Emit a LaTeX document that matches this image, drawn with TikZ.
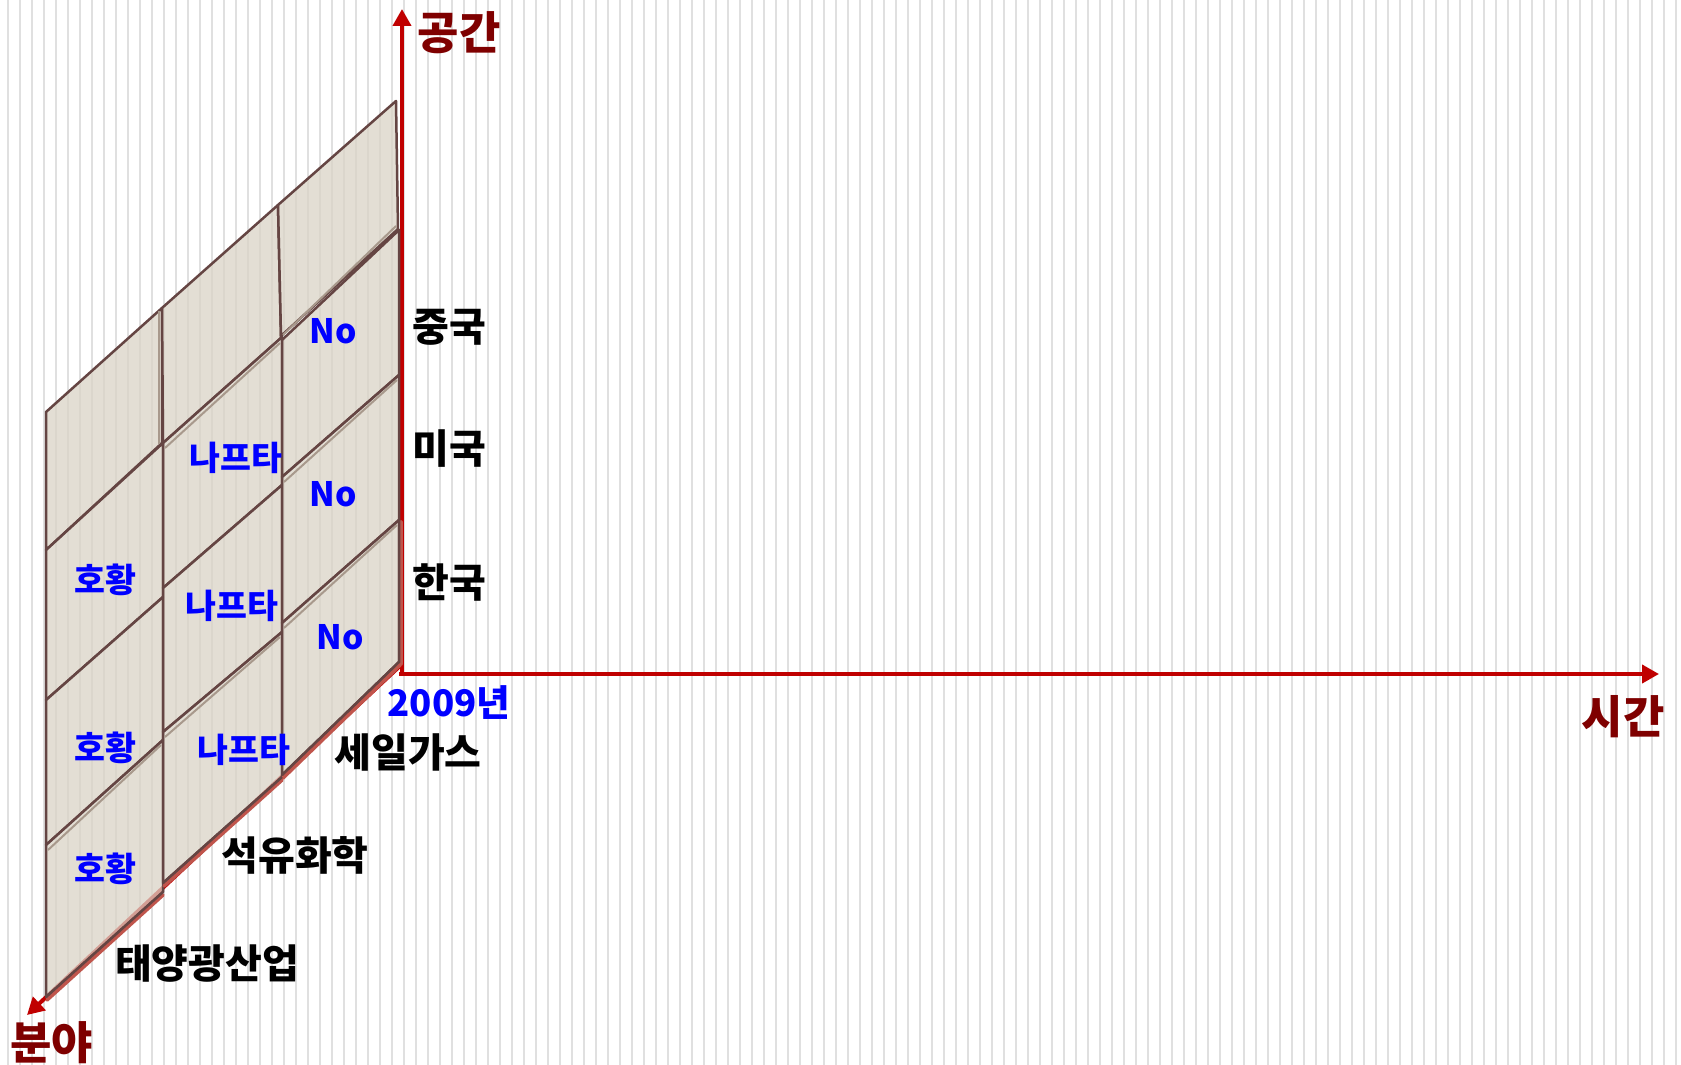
\documentclass[tikz,border=0pt]{standalone}
\usepackage{fontspec}
\setmainfont{Noto Sans CJK KR}
\usetikzlibrary{arrows.meta}
\definecolor{axred}{HTML}{C00000}
\definecolor{labred}{HTML}{7F0000}
\definecolor{cellfill}{RGB}{218,211,198}
\definecolor{cellline}{HTML}{654543}
\definecolor{celllight}{HTML}{A8998C}
\definecolor{salmon}{HTML}{C0554C}
\definecolor{stripe}{HTML}{E0E0E0}
\definecolor{txtblue}{HTML}{0000FF}
\begin{document}
\begin{tikzpicture}[x=0.5pt,y=-0.5pt,
  axis/.style={draw=axred,line width=2pt,-{Triangle[length=8.5pt,width=9pt]}},
  cell/.style={fill=cellfill,fill opacity=0.75,draw=cellline,line width=1.25pt,line join=round},
  lite/.style={draw=celllight,line width=1pt},
  edge/.style={draw=salmon,line width=1.8pt,line cap=round},
  val/.style={text=txtblue,font=\fontsize{16.8}{17}\selectfont\bfseries,inner sep=0pt},
  yrlab/.style={text=txtblue,font=\fontsize{18.3}{19}\selectfont\bfseries,inner sep=0pt},
  cat/.style={text=black,font=\fontsize{20}{20}\selectfont\bfseries,inner sep=0pt},
  axlab/.style={text=labred,font=\fontsize{22.5}{23}\selectfont\bfseries,inner sep=0pt}]
\useasboundingbox (0,0) rectangle (1681,1065);
\fill[white] (0,0) rectangle (1681,1065);
% background stripes
\foreach \i in {0,...,139} \draw[stripe,line width=0.9pt] ({8+12*\i},0) -- ({8+12*\i},1065);

% axes coordinates
\coordinate (O) at (402,674);
\coordinate (Ytip) at (402,9);
\coordinate (Xstart) at (399,674);
\coordinate (Xtip) at (1659,674);
\coordinate (Zstart) at (401,665);
\coordinate (Ztip) at (27,1015);

% depth and vertical axes (under the panel)
\draw[axis] (Zstart) -- (Ztip);
\draw[axis] (O) -- (Ytip);

% top row
\path[cell] (46,412) -- (162,308) -- (162,443) -- (46,550) -- cycle;
\path[cell] (162,308) -- (278,205) -- (281,338) -- (163,443) -- cycle;
\path[cell] (278,205) -- (396,101) -- (398,229) -- (281,336) -- cycle;
\draw[lite] (159,311) -- (159,444);

% column 1 (태양광산업)
\path[cell] (46,550) -- (163,443) -- (163,597) -- (46,700) -- cycle;
\path[cell] (46,700) -- (163,597) -- (163,740) -- (46,845) -- cycle;
\path[cell] (46,845) -- (163,740) -- (163,892) -- (46,997) -- cycle;
% column 2 (석유화학)
\path[cell] (163,443) -- (282,337) -- (282,485) -- (163,588) -- cycle;
\path[cell] (163,588) -- (282,485) -- (282,632) -- (163,732) -- cycle;
\path[cell] (163,732) -- (282,632) -- (282,777) -- (163,883) -- cycle;
% column 3 (세일가스)
\path[cell] (282,340) -- (399,230) -- (399,375) -- (282,477) -- cycle;
\path[cell] (282,477) -- (399,375) -- (399,520) -- (282,623) -- cycle;
\path[cell] (282,623) -- (399,520) -- (399,662) -- (282,775) -- cycle;

% light double lines
\draw[lite] (283,335) -- (396,226);
\draw[lite] (284,482) -- (397,380);
\draw[lite] (284,628) -- (397,525);
\draw[lite] (165,448) -- (280,343);
\draw[lite] (165,737) -- (280,637);
\draw[lite] (48,850) -- (161,745);

% salmon bottom edge
\draw[edge] (47,1000) -- (163,895);
\draw[edge] (164,886) -- (282,780);
\draw[edge] (283,778) -- (400,665);
\draw[edge] (401,522) -- (401,664);
\draw[cellline,line width=1.25pt] (46,997) -- (163,892);
\draw[cellline,line width=1.25pt] (163,883) -- (282,777);
\draw[cellline,line width=1.25pt] (282,775) -- (399,662) -- (399,520);

% horizontal axis
\draw[axis] (Xstart) -- (Xtip);

% axis labels
\node[axlab] (kong) at (459,33) {공간};
\node[axlab] (sigan) at (1623,717) {시간};
\node[axlab] (bunya) at (52,1043) {분야};

% country labels
\node[cat] (cn) at (449,327) {중국};
\node[cat] (us) at (449,449) {미국};
\node[cat] (kr) at (449,582) {한국};
\node[yrlab] (yr) at (449,703) {2009년};

% field labels
\node[cat] (shale) at (408,752) {세일가스};
\node[cat] (petro) at (295,855) {석유화학};
\node[cat] (solar) at (207,964) {태양광산업};

% cell values
\node[val] (v11) at (105,580) {호황};
\node[val] (v12) at (105,748) {호황};
\node[val] (v13) at (105,869) {호황};
\node[val] (v21) at (236,458) {나프타};
\node[val] (v22) at (232,606) {나프타};
\node[val] (v23) at (244,750) {나프타};
\node[val] (v31) at (333,331) {No};
\node[val] (v32) at (333,494) {No};
\node[val] (v33) at (340,637) {No};
\end{tikzpicture}
\end{document}
